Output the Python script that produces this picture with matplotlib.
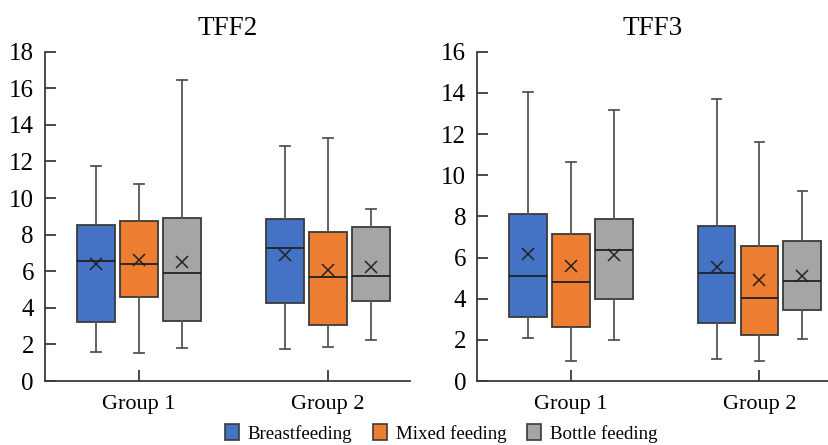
import matplotlib
matplotlib.use("Agg")
import matplotlib.pyplot as plt
from matplotlib.patches import Patch

plt.rcParams['font.family'] = ['Liberation Serif', 'DejaVu Serif']

groups = ['Group 1', 'Group 2']
feeding = ['Breastfeeding', 'Mixed feeding', 'Bottle feeding']
colors = ['#4472C4', '#ED7D31', '#A5A5A5']

# per panel, per group, per feeding: whislo, q1, median, q3, whishi, mean
tff2 = [
    [[1.60, 3.21, 6.58, 8.54, 11.76, 6.42],
     [1.53, 4.61, 6.42, 8.75, 10.76, 6.60],
     [1.81, 3.30, 5.89, 8.90, 16.47, 6.49]],
    [[1.77, 4.25, 7.28, 8.86, 12.86, 6.91],
     [1.86, 3.08, 5.69, 8.13, 13.26, 6.09],
     [2.26, 4.40, 5.73, 8.44, 9.39, 6.24]],
]
tff3 = [
    [[2.07, 3.11, 5.12, 8.11, 14.02, 6.19],
     [0.97, 2.61, 4.80, 7.12, 10.65, 5.59],
     [1.99, 3.97, 6.37, 7.89, 13.19, 6.11]],
    [[1.05, 2.82, 5.27, 7.54, 13.68, 5.54],
     [0.97, 2.24, 4.05, 6.58, 11.61, 4.90],
     [2.03, 3.45, 4.88, 6.79, 9.21, 5.09]],
]

fig = plt.figure(figsize=(8.29, 4.45), dpi=100)
ax1 = fig.add_axes([0.0543, 0.1438, 0.4403, 0.7400])
ax2 = fig.add_axes([0.5758, 0.1438, 0.4230, 0.7400])

edge = '#3a3a3a'

def draw(ax, data, title, ymax, xmax):
    offs = [-0.2275, 0.0, 0.2275]
    for gi, grp in enumerate(data):
        for fi, v in enumerate(grp):
            st = [dict(whislo=v[0], q1=v[1], med=v[2], q3=v[3], whishi=v[4],
                       mean=v[5], fliers=[])]
            ax.bxp(st, positions=[gi + 1 + offs[fi]], widths=0.2, capwidths=0.05,
                   patch_artist=True, showmeans=True, manage_ticks=False,
                   boxprops=dict(facecolor=colors[fi], edgecolor=edge, linewidth=1.3),
                   medianprops=dict(color='#222222', linewidth=1.3),
                   whiskerprops=dict(color='#555555', linewidth=1.3),
                   capprops=dict(color='#555555', linewidth=1.3),
                   meanprops=dict(marker='x', markeredgecolor='#222222',
                                  markersize=9, markeredgewidth=1.1))
    ax.set_xlim(0.503, xmax)
    ax.set_ylim(0, ymax)
    ax.set_yticks(range(0, ymax + 1, 2))
    ax.set_xticks([1, 2])
    ax.set_xticklabels(groups)
    ax.spines['top'].set_visible(False)
    ax.spines['right'].set_visible(False)
    for s in ['left', 'bottom']:
        ax.spines[s].set_color(edge)
        ax.spines[s].set_linewidth(1.3)
    ax.tick_params(axis='y', direction='in', length=8, width=1.3, color=edge,
                   labelsize=18, pad=8)
    ax.tick_params(axis='x', direction='in', length=8, width=1.3, color=edge,
                   labelsize=16, pad=10)
    ax.set_title(title, fontsize=19.5, pad=12)

draw(ax1, tff2, 'TFF2', 18, 2.434)
draw(ax2, tff3, 'TFF3', 16, 2.364)

handles = [Patch(facecolor=c, edgecolor=edge, linewidth=1.2) for c in colors]
fig.legend(handles, feeding, loc='center', bbox_to_anchor=(0.532, 0.026), ncol=3,
           frameon=False, fontsize=13.6, handlelength=0.75, handleheight=0.9,
           handletextpad=0.45, columnspacing=1.1, borderpad=0)

fig.savefig('out.png', dpi=100)
